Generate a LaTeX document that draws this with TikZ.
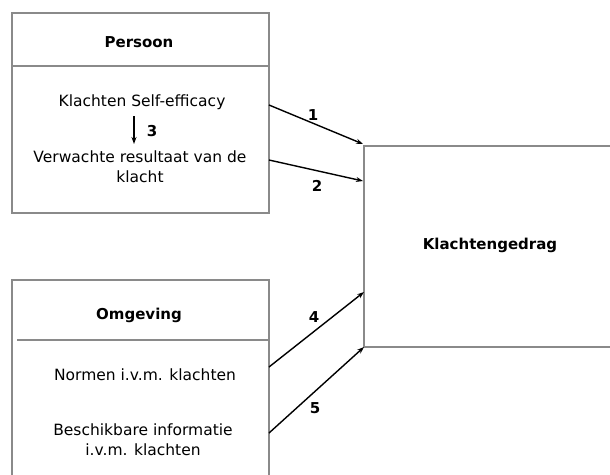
\documentclass[tikz,border=0pt]{standalone}
\usepackage{fontspec}
\setmainfont{DejaVu Sans}
\usetikzlibrary{arrows.meta}
\definecolor{boxgray}{HTML}{8A8A8A}
\tikzset{
  frame/.style={draw=boxgray, line width=1.2pt, rectangle, inner sep=0pt},
  txt/.style={font=\fontsize{15.5}{20}\selectfont, align=center, inner sep=0pt},
  ttl/.style={font=\fontsize{15}{18}\selectfont\bfseries, inner sep=0pt},
  num/.style={font=\fontsize{15}{18}\selectfont\bfseries, inner sep=0pt},
  link/.style={draw=black, line width=1.4pt, -{Stealth[length=7pt,width=5pt]}},
  divider/.style={draw=boxgray, line width=1.2pt}
}
\begin{document}
\begin{tikzpicture}[x=1pt,y=-1pt]
\useasboundingbox (0,0) rectangle (610,474);
% boxes
\node[frame, minimum width=257pt, minimum height=200pt] (persoon) at (140.5,113) {};
\node[frame, minimum width=257pt, minimum height=210pt] (omgeving) at (140.5,385) {};
\node[frame, minimum width=256pt, minimum height=201pt] (gedrag) at (492,246.5) {};
% dividers
\draw[divider] (12,66) -- (269,66);
\draw[divider] (17,340) -- (269,340);
% titles
\node[ttl] (tp) at (139,42) {Persoon};
\node[ttl] (to) at (139,315) {Omgeving};
\node[ttl] (tg) at (490,245) {Klachtengedrag};
% texts
\node[txt] (se) at (142,102) {Klachten Self-efficacy};
\node[txt] (vr) at (140,167) {Verwachte resultaat van de\\klacht};
\node[txt] (nm) at (145,375) {Normen i.v.m. klachten};
\node[txt] (bi) at (143,440) {Beschikbare informatie\\i.v.m. klachten};
% arrow 3
\coordinate (a3s) at (134,116);
\coordinate (a3e) at (134,144);
\draw[link, line width=1.3pt] (a3s) -- (a3e);
\node[num] (n3) at (152,131) {3};
% connectors
\coordinate (p1) at (269,105);
\coordinate (p2) at (269,160);
\coordinate (o4) at (269,367);
\coordinate (o5) at (269,433);
\coordinate (g1) at (363,144);
\coordinate (g2) at (363,181);
\coordinate (g4) at (364,292);
\coordinate (g5) at (364,347);
\draw[link] (p1) -- (g1);
\draw[link] (p2) -- (g2);
\draw[link] (o4) -- (g4);
\draw[link] (o5) -- (g5);
\node[num] (n1) at (313,115) {1};
\node[num] (n2) at (317,186) {2};
\node[num] (n4) at (314,317) {4};
\node[num] (n5) at (315,408) {5};
\end{tikzpicture}
\end{document}
